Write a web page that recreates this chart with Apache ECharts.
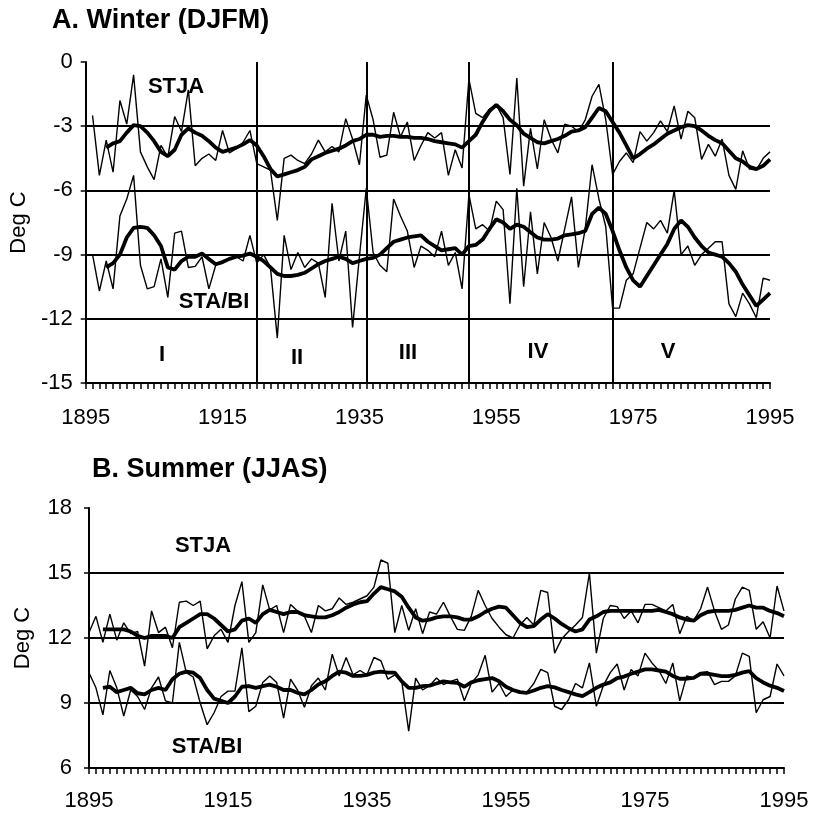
<!DOCTYPE html>
<html>
<head>
<meta charset="utf-8">
<script src="https://cdn.jsdelivr.net/npm/echarts@6/dist/echarts.min.js"></script>
<style>
  html, body { margin: 0; padding: 0; background: #fff; }
  #chart { width: 818px; height: 816px; }
</style>
</head>
<body>
<div id="chart"></div>
<script>
// Years 1895-1995, one value per year in every series below
const firstYear = 1895;
const lastYear = 1995;
const yearTicks = [1895, 1915, 1935, 1955, 1975, 1995];

// Winter (DJFM) mean temperature, deg C
const winterStjaAnnual = [
  null, -2.5, -5.3, -3.65, -5.15, -1.8, -2.9, -0.6, -4.2, -4.9,
  -5.5, -3.9, -4.45, -2.55, -3.25, -1.3, -4.85, -4.5, -4.3, -4.6,
  -3.2, -4.25, -4.05, -3.75, -3.2, -4.75, -4.9, -5.05, -7.4, -4.5,
  -4.35, -4.6, -4.75, -4.3, -3.65, -4.2, -3.95, -4.2, -2.65, -3.6,
  -4.8, -1.55, -2.7, -4.45, -4.35, -2.35, -3.5, -2.8, -4.6, -3.9,
  -3.3, -3.55, -3.3, -5.3, -4.1, -4.95, -0.8, -2.4, -2.6, -2.2,
  -2.0, -2.6, -5.25, -0.75, -5.8, -3.1, -5.0, -2.7, -3.6, -4.25,
  -2.9, -3.0, -3.25, -2.7, -1.6, -1.05, -2.7, -5.25, -4.65, -4.25,
  -4.7, -3.25, -3.7, -3.3, -2.75, -3.25, -2.05, -3.6, -2.3, -2.6,
  -4.55, -3.85, -4.4, -3.6, -5.3, -5.95, -4.15, -5.0, -5.05, -4.5,
  -4.2
];
const winterStjaSmooth = [
  null, null, null, -4.0, -3.8, -3.7, -3.3, -2.95, -3.0, -3.3,
  -3.7, -4.2, -4.4, -4.1, -3.4, -3.1, -3.3, -3.45, -3.7, -4.0,
  -4.2, -4.1, -4.0, -3.85, -3.65, -3.9, -4.4, -5.0, -5.35, -5.25,
  -5.15, -5.05, -4.9, -4.55, -4.4, -4.25, -4.15, -4.05, -3.9, -3.7,
  -3.6, -3.4, -3.4, -3.5, -3.45, -3.45, -3.5, -3.5, -3.55, -3.55,
  -3.6, -3.7, -3.75, -3.8, -3.85, -4.0, -3.7, -3.4, -2.8, -2.3,
  -2.0, -2.3, -2.7, -2.95, -3.35, -3.55, -3.75, -3.8, -3.7, -3.6,
  -3.45, -3.25, -3.2, -3.05, -2.6, -2.15, -2.3, -2.8, -3.3, -3.9,
  -4.5, -4.3, -4.05, -3.85, -3.6, -3.35, -3.2, -3.05, -2.95, -3.0,
  -3.2, -3.45, -3.65, -3.8, -4.15, -4.5, -4.65, -4.9, -5.0, -4.85,
  -4.55
];
const winterStaBiAnnual = [
  null, -9.0, -10.7, -9.3, -10.6, -7.2, -6.4, -5.3, -9.5, -10.6,
  -10.5, -9.2, -11.0, -8.0, -7.9, -9.6, -9.55, -9.1, -10.6, -9.5,
  -9.3, -9.2, -9.1, -9.3, -8.1, -9.4, -9.0, -9.6, -12.9, -8.1,
  -9.7, -8.9, -9.6, -9.2, -9.4, -11.0, -6.6, -9.3, -7.9, -12.4,
  -9.1, -5.9, -8.9, -9.5, -9.8, -6.4, -7.2, -7.9, -9.6, -8.6,
  -8.8, -9.1, -7.9, -9.5, -8.9, -10.6, -6.2, -7.8, -7.6, -7.9,
  -6.5, -6.9, -11.3, -5.9, -10.5, -7.0, -9.9, -7.5, -8.2, -9.3,
  -7.8, -6.3, -9.6, -7.8, -4.8, -6.4, -7.7, -11.5, -11.5, -10.2,
  -9.9, -8.7, -7.5, -7.8, -7.4, -8.0, -6.0, -9.0, -8.6, -9.5,
  -9.0, -8.7, -8.4, -8.4, -11.3, -11.9, -10.8, -11.3, -11.95, -10.1,
  -10.2
];
const winterStaBiSmooth = [
  null, null, null, -9.6, -9.4, -9.0, -8.2, -7.75, -7.7, -7.75,
  -8.1, -8.6, -9.6, -9.7, -9.3, -9.1, -9.1, -8.95, -9.2, -9.45,
  -9.35, -9.2, -9.1, -9.05, -8.95, -9.1, -9.3, -9.6, -9.9, -10.0,
  -10.0, -9.95, -9.85, -9.65, -9.45, -9.3, -9.2, -9.1, -9.2, -9.4,
  -9.3, -9.2, -9.15, -9.0, -8.7, -8.4, -8.3, -8.2, -8.15, -8.1,
  -8.4, -8.6, -8.8, -8.75, -8.7, -9.0, -8.6, -8.55, -8.3, -7.8,
  -7.35, -7.5, -7.8, -7.6, -7.7, -7.95, -8.2, -8.3, -8.3, -8.25,
  -8.1, -8.05, -8.0, -7.9, -7.1, -6.8, -7.1, -7.9, -8.8, -9.6,
  -10.2, -10.5, -10.0, -9.5, -9.0, -8.5, -7.8, -7.4, -7.7, -8.2,
  -8.6, -8.9, -9.0, -9.1, -9.4, -9.8, -10.4, -10.9, -11.4, -11.1,
  -10.8
];

// Summer (JJAS) mean temperature, deg C
const summerStjaAnnual = [
  12.25, 13.0, 11.8, 13.1, 11.9, 12.7, 12.2, 12.3, 10.7, 13.25,
  12.25, 12.5, 11.55, 13.65, 13.7, 13.5, 13.7, 11.5, 12.1, 12.4,
  11.8, 13.5, 14.6, 11.8, 12.25, 14.45, 13.3, 13.5, 12.25, 13.55,
  13.25, 13.0, 12.25, 13.5, 13.25, 13.35, 13.85, 13.55, 13.65, 13.8,
  13.95, 14.35, 15.6, 15.45, 12.25, 13.5, 12.35, 13.35, 12.2, 13.2,
  13.1, 13.65, 13.0, 12.4, 12.35, 13.0, 14.2, 13.5, 12.9, 12.5,
  12.15, 12.0, 12.6, 12.95, 12.6, 14.2, 14.1, 11.3, 11.95, 12.3,
  12.6, 12.95, 15.0, 11.3, 12.9, 13.5, 13.45, 12.9, 13.25, 12.7,
  13.55, 13.55, 13.4, 13.25, 13.55, 12.2, 13.0, 12.8, 13.35, 14.35,
  13.25, 12.4, 12.6, 13.8, 14.35, 14.2, 12.4, 12.75, 12.0, 14.4,
  13.25
];
const summerStjaSmooth = [
  null, null, 12.4, 12.4, 12.4, 12.4, 12.3, 12.1, 12.0, 12.1,
  12.1, 12.1, 12.0, 12.5, 12.7, 12.9, 13.1, 13.1, 12.9, 12.6,
  12.3, 12.4, 12.8, 12.9, 12.7, 13.1, 13.3, 13.2, 13.1, 13.2,
  13.2, 13.05, 13.0, 12.95, 12.95, 13.05, 13.2, 13.4, 13.55, 13.65,
  13.7, 14.05, 14.35, 14.25, 14.15, 13.9, 13.4, 12.95, 12.8, 12.85,
  12.95, 13.0, 13.0, 12.95, 12.85, 12.85, 13.0, 13.2, 13.35, 13.45,
  13.4, 13.05, 12.7, 12.5, 12.55, 12.85, 13.1, 12.9, 12.65, 12.45,
  12.3, 12.4, 12.85, 13.0, 13.2, 13.25, 13.25, 13.25, 13.25, 13.25,
  13.25, 13.25, 13.3, 13.2, 13.1, 12.95, 12.85, 12.8, 13.05, 13.2,
  13.25, 13.25, 13.25, 13.3, 13.4, 13.5, 13.4, 13.4, 13.25, 13.15,
  13.0
];
const summerStaBiAnnual = [
  10.4, 9.7, 8.45, 10.5, 9.7, 8.4, 9.6, 9.3, 8.7, 9.7,
  10.2, 9.1, 9.0, 11.8, 10.4, 10.2, 9.0, 8.0, 8.55, 9.3,
  9.55, 9.55, 11.55, 8.6, 8.85, 9.95, 10.25, 9.95, 8.3, 10.1,
  9.6, 8.8, 9.8, 10.15, 9.6, 11.25, 10.25, 11.1, 10.3, 10.5,
  10.3, 11.1, 10.95, 10.1, 10.3, 10.0, 7.7, 10.15, 9.6, 9.8,
  10.15, 9.85, 10.0, 10.1, 9.1, 9.9, 10.3, 11.2, 9.5, 9.9,
  9.3, 9.6, 9.45, 9.5, 9.9, 10.55, 10.4, 8.85, 8.7, 9.15,
  9.9, 9.7, 10.85, 8.85, 9.8, 10.4, 10.8, 9.6, 10.55, 10.25,
  11.3, 10.85, 10.5, 9.9, 10.85, 9.1, 10.25, 10.15, 10.4, 10.45,
  9.85, 10.0, 10.0, 10.25, 11.3, 11.15, 8.55, 9.15, 9.3, 10.8,
  10.25
];
const summerStaBiSmooth = [
  null, null, 9.7, 9.75, 9.5, 9.6, 9.7, 9.45, 9.4, 9.6,
  9.7, 9.6, 10.1, 10.35, 10.45, 10.4, 10.15, 9.6, 9.2, 9.1,
  9.0, 9.3, 9.75, 9.78, 9.7, 9.78, 9.85, 9.75, 9.6, 9.6,
  9.47, 9.4, 9.6, 9.85, 10.0, 10.25, 10.45, 10.4, 10.25, 10.25,
  10.3, 10.4, 10.45, 10.4, 10.4, 10.0, 9.7, 9.7, 9.78, 9.8,
  9.9, 10.0, 9.95, 9.93, 9.75, 9.95, 10.05, 10.1, 10.15, 10.0,
  9.75, 9.6, 9.5, 9.47, 9.58, 9.7, 9.78, 9.72, 9.6, 9.5,
  9.4, 9.32, 9.5, 9.7, 9.85, 9.95, 10.15, 10.22, 10.35, 10.45,
  10.55, 10.55, 10.5, 10.45, 10.25, 10.12, 10.12, 10.16, 10.35, 10.35,
  10.3, 10.24, 10.24, 10.3, 10.4, 10.47, 10.15, 9.95, 9.8, 9.7,
  9.55
];

// Boundaries between winter periods I-V
const periodBreaks = [1920, 1936, 1951, 1972];
const periodNames = ['I', 'II', 'III', 'IV', 'V'];

const FONT = '"Liberation Sans", Arial, Helvetica, sans-serif';
const INK = '#000';

// pair each value with its year, skipping years without a value
function byYear(values) {
  const out = [];
  values.forEach((v, i) => { if (v !== null) out.push([firstYear + i, v]); });
  return out;
}

function xAxisFor(gridIndex, labelMargin) {
  return {
    type: 'value',
    gridIndex: gridIndex,
    min: firstYear, max: lastYear, interval: 1,
    axisLine: { show: true, onZero: false, lineStyle: { color: INK, width: 2 } },
    axisTick: { show: true, inside: false, length: 6, lineStyle: { color: INK, width: 1.5 } },
    axisLabel: {
      hideOverlap: false,
      showMinLabel: true, showMaxLabel: true,
      formatter: v => (yearTicks.indexOf(v) >= 0 ? String(v) : ''),
      color: INK, fontSize: 22, fontFamily: FONT, margin: labelMargin
    },
    splitLine: { show: false }
  };
}

function yAxisFor(gridIndex, min, max, labelMargin, nameGap) {
  return {
    type: 'value',
    gridIndex: gridIndex,
    min: min, max: max, interval: 3,
    name: 'Deg C',
    nameLocation: 'middle',
    nameRotate: 90,
    nameGap: nameGap,
    nameTextStyle: { color: INK, fontSize: 22, fontFamily: FONT },
    axisLine: { show: true, onZero: false, lineStyle: { color: INK, width: 2 } },
    axisTick: { show: true, inside: false, length: 5, lineStyle: { color: INK, width: 1.5 } },
    axisLabel: { color: INK, fontSize: 22, fontFamily: FONT, margin: labelMargin },
    splitLine: { show: true, showMinLine: false, showMaxLine: false, lineStyle: { color: INK, width: 2 } }
  };
}

function lineSeries(idx, values, width) {
  return {
    type: 'line',
    xAxisIndex: idx, yAxisIndex: idx,
    data: byYear(values),
    symbol: 'none',
    silent: true,
    lineStyle: { color: INK, width: width },
    z: width > 2 ? 4 : 3
  };
}

const dividerSeries = lineSeries(0, winterStjaAnnual, 1.4);
dividerSeries.markLine = {
  silent: true,
  symbol: ['none', 'none'],
  label: { show: false },
  lineStyle: { color: INK, width: 2, type: 'solid' },
  data: periodBreaks.map(y => ({ xAxis: y }))
};

function textMark(str, x, y, size, align) {
  return {
    type: 'text', x: x, y: y, z: 10,
    style: {
      text: str, fill: INK,
      font: 'bold ' + size + 'px ' + FONT,
      align: align || 'center', verticalAlign: 'middle'
    }
  };
}

const numeralPos = [[162, 355], [297, 358], [408, 353], [538, 352], [668, 352]];

const option = {
  animation: false,
  backgroundColor: '#fff',
  grid: [
    { left: 79, top: 62, width: 691, height: 321 },
    { left: 89, top: 508, width: 695, height: 260 }
  ],
  xAxis: [xAxisFor(0, 24), xAxisFor(1, 22)],
  yAxis: [yAxisFor(0, -15, 0, 13, 45), yAxisFor(1, 6, 18, 17, 55)],
  series: [
    dividerSeries,
    lineSeries(0, winterStaBiAnnual, 1.4),
    lineSeries(0, winterStjaSmooth, 3.8),
    lineSeries(0, winterStaBiSmooth, 3.8),
    lineSeries(1, summerStjaAnnual, 1.4),
    lineSeries(1, summerStaBiAnnual, 1.4),
    lineSeries(1, summerStjaSmooth, 3.8),
    lineSeries(1, summerStaBiSmooth, 3.8)
  ],
  graphic: [
    textMark('A. Winter (DJFM)', 52, 21, 27, 'left'),
    textMark('B. Summer (JJAS)', 92, 470, 27, 'left'),
    textMark('STJA', 176, 87, 22),
    textMark('STA/BI', 214, 302, 22),
    textMark('STJA', 203, 546, 22),
    textMark('STA/BI', 207, 747, 22)
  ].concat(periodNames.map((n, i) => textMark(n, numeralPos[i][0], numeralPos[i][1], 22)))
};

const chart = echarts.init(document.getElementById('chart'), null, { renderer: 'canvas' });
chart.setOption(option);
</script>
</body>
</html>
